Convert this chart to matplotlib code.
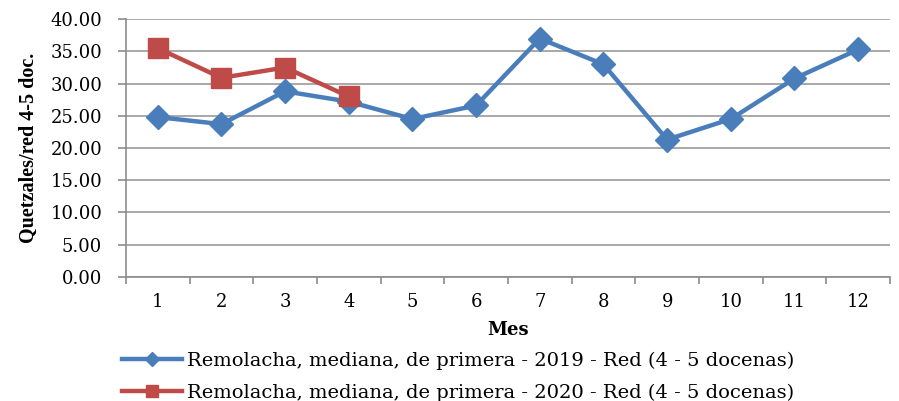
import numpy as np
import matplotlib.pyplot as plt
from matplotlib.ticker import FixedLocator, NullFormatter

meses = [1, 2, 3, 4, 5, 6, 7, 8, 9, 10, 11, 12]
precio_2019 = [24.8, 23.7, 28.8, 27.2, 24.5, 26.6, 37.0, 33.0, 21.3, 24.5, 30.8, 35.3]
meses_2020 = [1, 2, 3, 4]
precio_2020 = [35.5, 30.9, 32.5, 28.0]

lbl_2019 = "Remolacha, mediana, de primera - 2019 - Red (4 - 5 docenas)"
lbl_2020 = "Remolacha, mediana, de primera - 2020 - Red (4 - 5 docenas)"

plt.rcParams["font.family"] = "DejaVu Serif"

fig = plt.figure(figsize=(8.99, 4.01), dpi=100)
ax = fig.add_axes([0.140, 0.310, 0.850, 0.642])

l1, = ax.plot(meses, precio_2019, color="#4A7EBB", lw=3.2, marker="D",
              markersize=12, label=lbl_2019)
l2, = ax.plot(meses_2020, precio_2020, color="#BE4B48", lw=3.2, marker="s",
              markersize=14, label=lbl_2020)

ax.set_xlim(0.5, 12.5)
ax.set_ylim(0, 40)
ax.set_yticks(np.arange(0, 40.1, 5))
ax.set_yticklabels([f"{v:.2f}" for v in np.arange(0, 40.1, 5)], fontsize=13)
ax.yaxis.grid(True, color="#9a9a9a", lw=1.2)
ax.set_axisbelow(True)

# category axis: ticks between categories, labels in the middle
ax.xaxis.set_major_locator(FixedLocator(np.arange(0.5, 12.6, 1)))
ax.xaxis.set_major_formatter(NullFormatter())
ax.xaxis.set_minor_locator(FixedLocator(meses))
ax.set_xticklabels([str(m) for m in meses], minor=True, fontsize=13)
ax.tick_params(axis="x", which="minor", length=0, pad=12)
ax.tick_params(axis="x", which="major", length=5, color="#8c8c8c", width=1.2)
ax.tick_params(axis="y", length=6, color="#8c8c8c", width=1.2, pad=11)

for s in ["top", "right"]:
    ax.spines[s].set_visible(False)
for s in ["left", "bottom"]:
    ax.spines[s].set_color("#8c8c8c")
    ax.spines[s].set_linewidth(1.2)

ax.set_xlabel("Mes", fontsize=13, fontweight="bold", labelpad=7)
ax.set_ylabel("Quetzales/red 4-5 doc.", fontsize=14.5, fontweight="bold",
              family="Liberation Serif", labelpad=8)

fig.legend(handles=[l1, l2], loc="upper left", bbox_to_anchor=(0.116, 0.167),
           frameon=False, fontsize=14, handlelength=3.1, handletextpad=0.26,
           labelspacing=0.70, markerscale=0.6)

fig.savefig("out.png", dpi=100)
